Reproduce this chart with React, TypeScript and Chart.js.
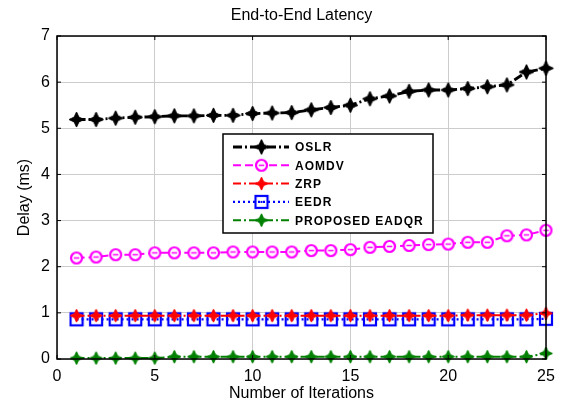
import React, { useEffect, useRef } from "react";
import { Chart, registerables } from "chart.js";

Chart.register(...registerables);

const iterations = Array.from({ length: 25 }, (_, i) => i + 1);
const xTicks = [0, 5, 10, 15, 20, 25];
const yTicks = [0, 1, 2, 3, 4, 5, 6, 7];

const oslr = [5.19, 5.19, 5.22, 5.24, 5.25, 5.27, 5.27, 5.28, 5.28, 5.32, 5.33, 5.34, 5.4, 5.45, 5.5, 5.64, 5.7, 5.8, 5.83, 5.83, 5.86, 5.9, 5.94, 6.22, 6.3];
const aomdv = [2.19, 2.21, 2.26, 2.26, 2.3, 2.3, 2.3, 2.3, 2.32, 2.32, 2.32, 2.32, 2.35, 2.35, 2.37, 2.42, 2.44, 2.46, 2.48, 2.49, 2.53, 2.53, 2.67, 2.69, 2.79];
const zrp = [0.94, 0.94, 0.94, 0.94, 0.94, 0.94, 0.94, 0.94, 0.94, 0.94, 0.94, 0.94, 0.94, 0.94, 0.94, 0.94, 0.94, 0.94, 0.94, 0.94, 0.95, 0.95, 0.95, 0.95, 0.99];
const eedr = [0.86, 0.86, 0.86, 0.86, 0.86, 0.86, 0.86, 0.86, 0.86, 0.86, 0.86, 0.86, 0.86, 0.86, 0.86, 0.86, 0.86, 0.86, 0.86, 0.86, 0.86, 0.86, 0.86, 0.86, 0.87];
const proposed = [0.02, 0.02, 0.02, 0.02, 0.02, 0.05, 0.05, 0.05, 0.05, 0.05, 0.05, 0.05, 0.05, 0.05, 0.05, 0.05, 0.05, 0.05, 0.05, 0.05, 0.05, 0.05, 0.05, 0.05, 0.12];

const seriesNames = ["OSLR", "AOMDV", "ZRP", "EEDR", "PROPOSED EADQR"];
const FONT = "Arial, 'Liberation Sans', sans-serif";

function starMarker(color: string, r: number): HTMLCanvasElement {
  const c = document.createElement("canvas");
  const s = Math.ceil(r * 2 + 4);
  c.width = s;
  c.height = s;
  const ctx = c.getContext("2d")!;
  const cx = s / 2, cy = s / 2;
  const inner = r * 0.45;
  ctx.beginPath();
  for (let i = 0; i < 8; i++) {
    const ang = (Math.PI / 4) * i - Math.PI / 2;
    const rr = i % 2 === 0 ? r : inner;
    const px = cx + Math.cos(ang) * rr;
    const py = cy + Math.sin(ang) * rr;
    if (i === 0) ctx.moveTo(px, py);
    else ctx.lineTo(px, py);
  }
  ctx.closePath();
  ctx.fillStyle = color;
  ctx.fill();
  ctx.strokeStyle = color;
  ctx.lineWidth = 1;
  ctx.stroke();
  return c;
}

function circleMarker(color: string, r: number): HTMLCanvasElement {
  const c = document.createElement("canvas");
  const s = Math.ceil(r * 2 + 4);
  c.width = s;
  c.height = s;
  const ctx = c.getContext("2d")!;
  ctx.beginPath();
  ctx.arc(s / 2, s / 2, r, 0, Math.PI * 2);
  ctx.fillStyle = "#fff";
  ctx.fill();
  ctx.strokeStyle = color;
  ctx.lineWidth = 2.2;
  ctx.stroke();
  ctx.beginPath();
  ctx.moveTo(s / 2 - r * 0.5, s / 2);
  ctx.lineTo(s / 2 + r * 0.5, s / 2);
  ctx.lineWidth = 1.5;
  ctx.stroke();
  return c;
}

function squareMarker(color: string, half: number): HTMLCanvasElement {
  const c = document.createElement("canvas");
  const s = Math.ceil(half * 2 + 4);
  c.width = s;
  c.height = s;
  const ctx = c.getContext("2d")!;
  ctx.strokeStyle = color;
  ctx.lineWidth = 2.2;
  ctx.strokeRect(s / 2 - half, s / 2 - half, half * 2, half * 2);
  ctx.fillStyle = color;
  ctx.fillRect(s / 2 - 1, s / 2 - 1, 2, 2);
  return c;
}

export default function App() {
  const ref = useRef<HTMLCanvasElement>(null);

  useEffect(() => {
    document.body.style.margin = "0";
    const canvas = ref.current!;
    const mk = {
      oslr: starMarker("#000000", 7.5),
      aomdv: circleMarker("#ff00ff", 5.5),
      zrp: starMarker("#ff0000", 6.5),
      eedr: squareMarker("#0000ff", 6),
      proposed: starMarker("#008000", 6.5),
    };

    const styles = [
      { color: "#000000", dash: [9, 3, 2, 3], width: 2.8, marker: mk.oslr, data: oslr },
      { color: "#ff00ff", dash: [8, 4], width: 2, marker: mk.aomdv, data: aomdv },
      { color: "#ff0000", dash: [8, 3, 2, 3], width: 2, marker: mk.zrp, data: zrp },
      { color: "#0000ff", dash: [2, 3], width: 2.2, marker: mk.eedr, data: eedr },
      { color: "#008000", dash: [8, 3, 2, 3], width: 2, marker: mk.proposed, data: proposed },
    ];

    const framePlugin = {
      id: "frame",
      afterDraw(chart: any) {
        const { ctx, chartArea: a } = chart;
        ctx.save();
        ctx.strokeStyle = "#000";
        ctx.lineWidth = 1.5;
        ctx.strokeRect(a.left, a.top, a.right - a.left, a.bottom - a.top);
        const xs = chart.scales.x;
        const ys = chart.scales.y;
        ctx.lineWidth = 1;
        xTicks.forEach((v) => {
          const px = xs.getPixelForValue(v);
          ctx.beginPath();
          ctx.moveTo(px, a.top);
          ctx.lineTo(px, a.top + 4);
          ctx.moveTo(px, a.bottom);
          ctx.lineTo(px, a.bottom - 4);
          ctx.stroke();
        });
        yTicks.forEach((v) => {
          const py = ys.getPixelForValue(v);
          ctx.beginPath();
          ctx.moveTo(a.left, py);
          ctx.lineTo(a.left + 4, py);
          ctx.moveTo(a.right, py);
          ctx.lineTo(a.right - 4, py);
          ctx.stroke();
        });

        // title
        ctx.fillStyle = "#000";
        ctx.font = `16px ${FONT}`;
        ctx.textAlign = "center";
        ctx.textBaseline = "middle";
        ctx.fillText("End-to-End Latency", (a.left + a.right) / 2, 16);

        // legend
        const lx = 223, ly = 134, lw = 210, lh = 99;
        ctx.fillStyle = "#fff";
        ctx.fillRect(lx, ly, lw, lh);
        ctx.strokeStyle = "#000";
        ctx.lineWidth = 1.5;
        ctx.strokeRect(lx, ly, lw, lh);
        styles.forEach((s, i) => {
          const y = 147 + i * 18.3;
          ctx.save();
          ctx.strokeStyle = s.color;
          ctx.lineWidth = s.width;
          ctx.setLineDash(s.dash);
          ctx.beginPath();
          ctx.moveTo(233, y);
          ctx.lineTo(289, y);
          ctx.stroke();
          ctx.restore();
          const m = s.marker;
          ctx.drawImage(m, 261.5 - m.width / 2, y - m.height / 2);
          ctx.save();
          ctx.fillStyle = "#000";
          ctx.font = `bold 12px ${FONT}`;
          (ctx as any).letterSpacing = "1px";
          ctx.textAlign = "left";
          ctx.textBaseline = "middle";
          ctx.fillText(seriesNames[i], 295, y + 1);
          ctx.restore();
        });
        ctx.restore();
      },
    };

    const chart = new Chart(canvas, {
      type: "line",
      data: {
        labels: iterations,
        datasets: styles.map((s, i) => ({
          label: seriesNames[i],
          data: s.data.map((v, j) => ({ x: iterations[j], y: v })),
          borderColor: s.color,
          backgroundColor: s.color,
          borderWidth: s.width,
          borderDash: s.dash,
          pointStyle: s.marker as any,
          pointRadius: 7,
          fill: false,
          tension: 0,
          clip: false as any,
        })),
      },
      options: {
        animation: false,
        responsive: false,
        events: [],
        layout: { padding: { top: 36, right: 19, left: 0, bottom: 0 } },
        plugins: {
          legend: { display: false },
          title: { display: false },
          tooltip: { enabled: false },
        },
        scales: {
          x: {
            type: "linear",
            min: 0,
            max: 25,
            afterBuildTicks: (scale: any) => {
              scale.ticks = xTicks.map((v) => ({ value: v }));
            },
            afterFit: (scale: any) => {
              scale.height = 46;
            },
            grid: { color: "#cccccc", lineWidth: 1, drawTicks: false },
            border: { display: false },
            ticks: { color: "#000", font: { size: 16, family: FONT }, padding: 8, maxRotation: 0 },
            title: {
              display: true,
              text: "Number of Iterations",
              color: "#000",
              font: { size: 16, family: FONT },
              padding: { top: 0, bottom: 2 },
            },
          },
          y: {
            type: "linear",
            min: 0,
            max: 7,
            afterBuildTicks: (scale: any) => {
              scale.ticks = yTicks.map((v) => ({ value: v }));
            },
            afterFit: (scale: any) => {
              scale.width = 57;
            },
            grid: { color: "#cccccc", lineWidth: 1, drawTicks: false },
            border: { display: false },
            ticks: { color: "#000", font: { size: 16, family: FONT }, padding: 7 },
            title: {
              display: true,
              text: "Delay (ms)",
              color: "#000",
              font: { size: 16, family: FONT },
              padding: { top: 15, bottom: 0 },
            },
          },
        },
      },
      plugins: [framePlugin],
    } as any);

    return () => chart.destroy();
  }, []);

  return (
    <div style={{ position: "fixed", left: 0, top: 0, width: 565, height: 405, background: "#fff" }}>
      <canvas ref={ref} width={565} height={405} style={{ width: 565, height: 405, display: "block" }} />
    </div>
  );
}
